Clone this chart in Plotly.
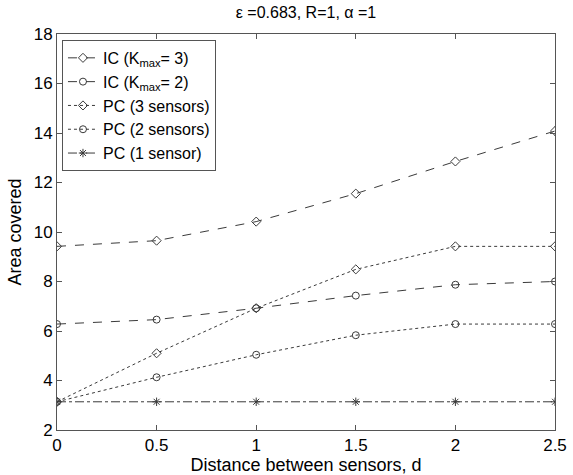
import plotly.graph_objects as go

# distance between sensors
d = [0, 0.5, 1, 1.5, 2, 2.5]

ic_k3 = [9.42, 9.65, 10.42, 11.55, 12.85, 14.08]
ic_k2 = [6.28, 6.46, 6.92, 7.43, 7.87, 8.0]
pc_3 = [3.14, 5.1, 6.92, 8.49, 9.42, 9.42]
pc_2 = [3.14, 4.13, 5.04, 5.83, 6.28, 6.28]
pc_1 = [3.14, 3.14, 3.14, 3.14, 3.14, 3.14]

series = [
    ("IC (K<sub>max</sub>= 3)", ic_k3, "diamond-open", "dash"),
    ("IC (K<sub>max</sub>= 2)", ic_k2, "circle-open", "dash"),
    ("PC (3 sensors)", pc_3, "diamond-open", "dot"),
    ("PC (2 sensors)", pc_2, "circle-open", "dot"),
    ("PC (1 sensor)", pc_1, "asterisk-open", "dashdot"),
]

fig = go.Figure()
for name, y, sym, dash in series:
    fig.add_trace(go.Scatter(
        x=d, y=y, name=name, mode="lines+markers",
        line=dict(color="#3a3a3a", width=1, dash=dash),
        marker=dict(symbol=sym, size=7, color="#3a3a3a", line=dict(width=1, color="#3a3a3a")),
    ))

axis_style = dict(
    showgrid=False, zeroline=False, showline=True, linecolor="#555555", linewidth=1,
    mirror="ticks", ticks="inside", ticklen=5, tickcolor="#555555",
    tickfont=dict(size=17, color="black"), automargin=False,
)

fig.update_xaxes(range=[0, 2.5], dtick=0.5, title=dict(text="Distance between sensors, d", standoff=3,
                 font=dict(size=18, color="black")), **axis_style)
fig.update_yaxes(range=[2, 18], dtick=2, title=dict(text="Area covered", standoff=7,
                 font=dict(size=18, color="black")), **axis_style)

fig.update_layout(
    width=573, height=475,
    margin=dict(l=57, r=18, t=34, b=45),
    plot_bgcolor="white", paper_bgcolor="white",
    font=dict(family="Liberation Sans, Arial, sans-serif", color="black"),
    title=dict(text="ε =0.683, R=1, α =1", xref="paper", x=0.5, xanchor="center",
               y=0.985, yanchor="top", font=dict(size=16, color="black")),
    legend=dict(x=0.01, y=0.985, xanchor="left", yanchor="top", bgcolor="white",
                bordercolor="#555555", borderwidth=1, font=dict(size=16, color="black"),
                tracegroupgap=0, itemwidth=30),
    showlegend=True,
)

# drop the default page margin so the figure sits at the window's corner
fig.write_html("out.html", config={"displayModeBar": False},
               post_script="document.body.style.margin='0';")
